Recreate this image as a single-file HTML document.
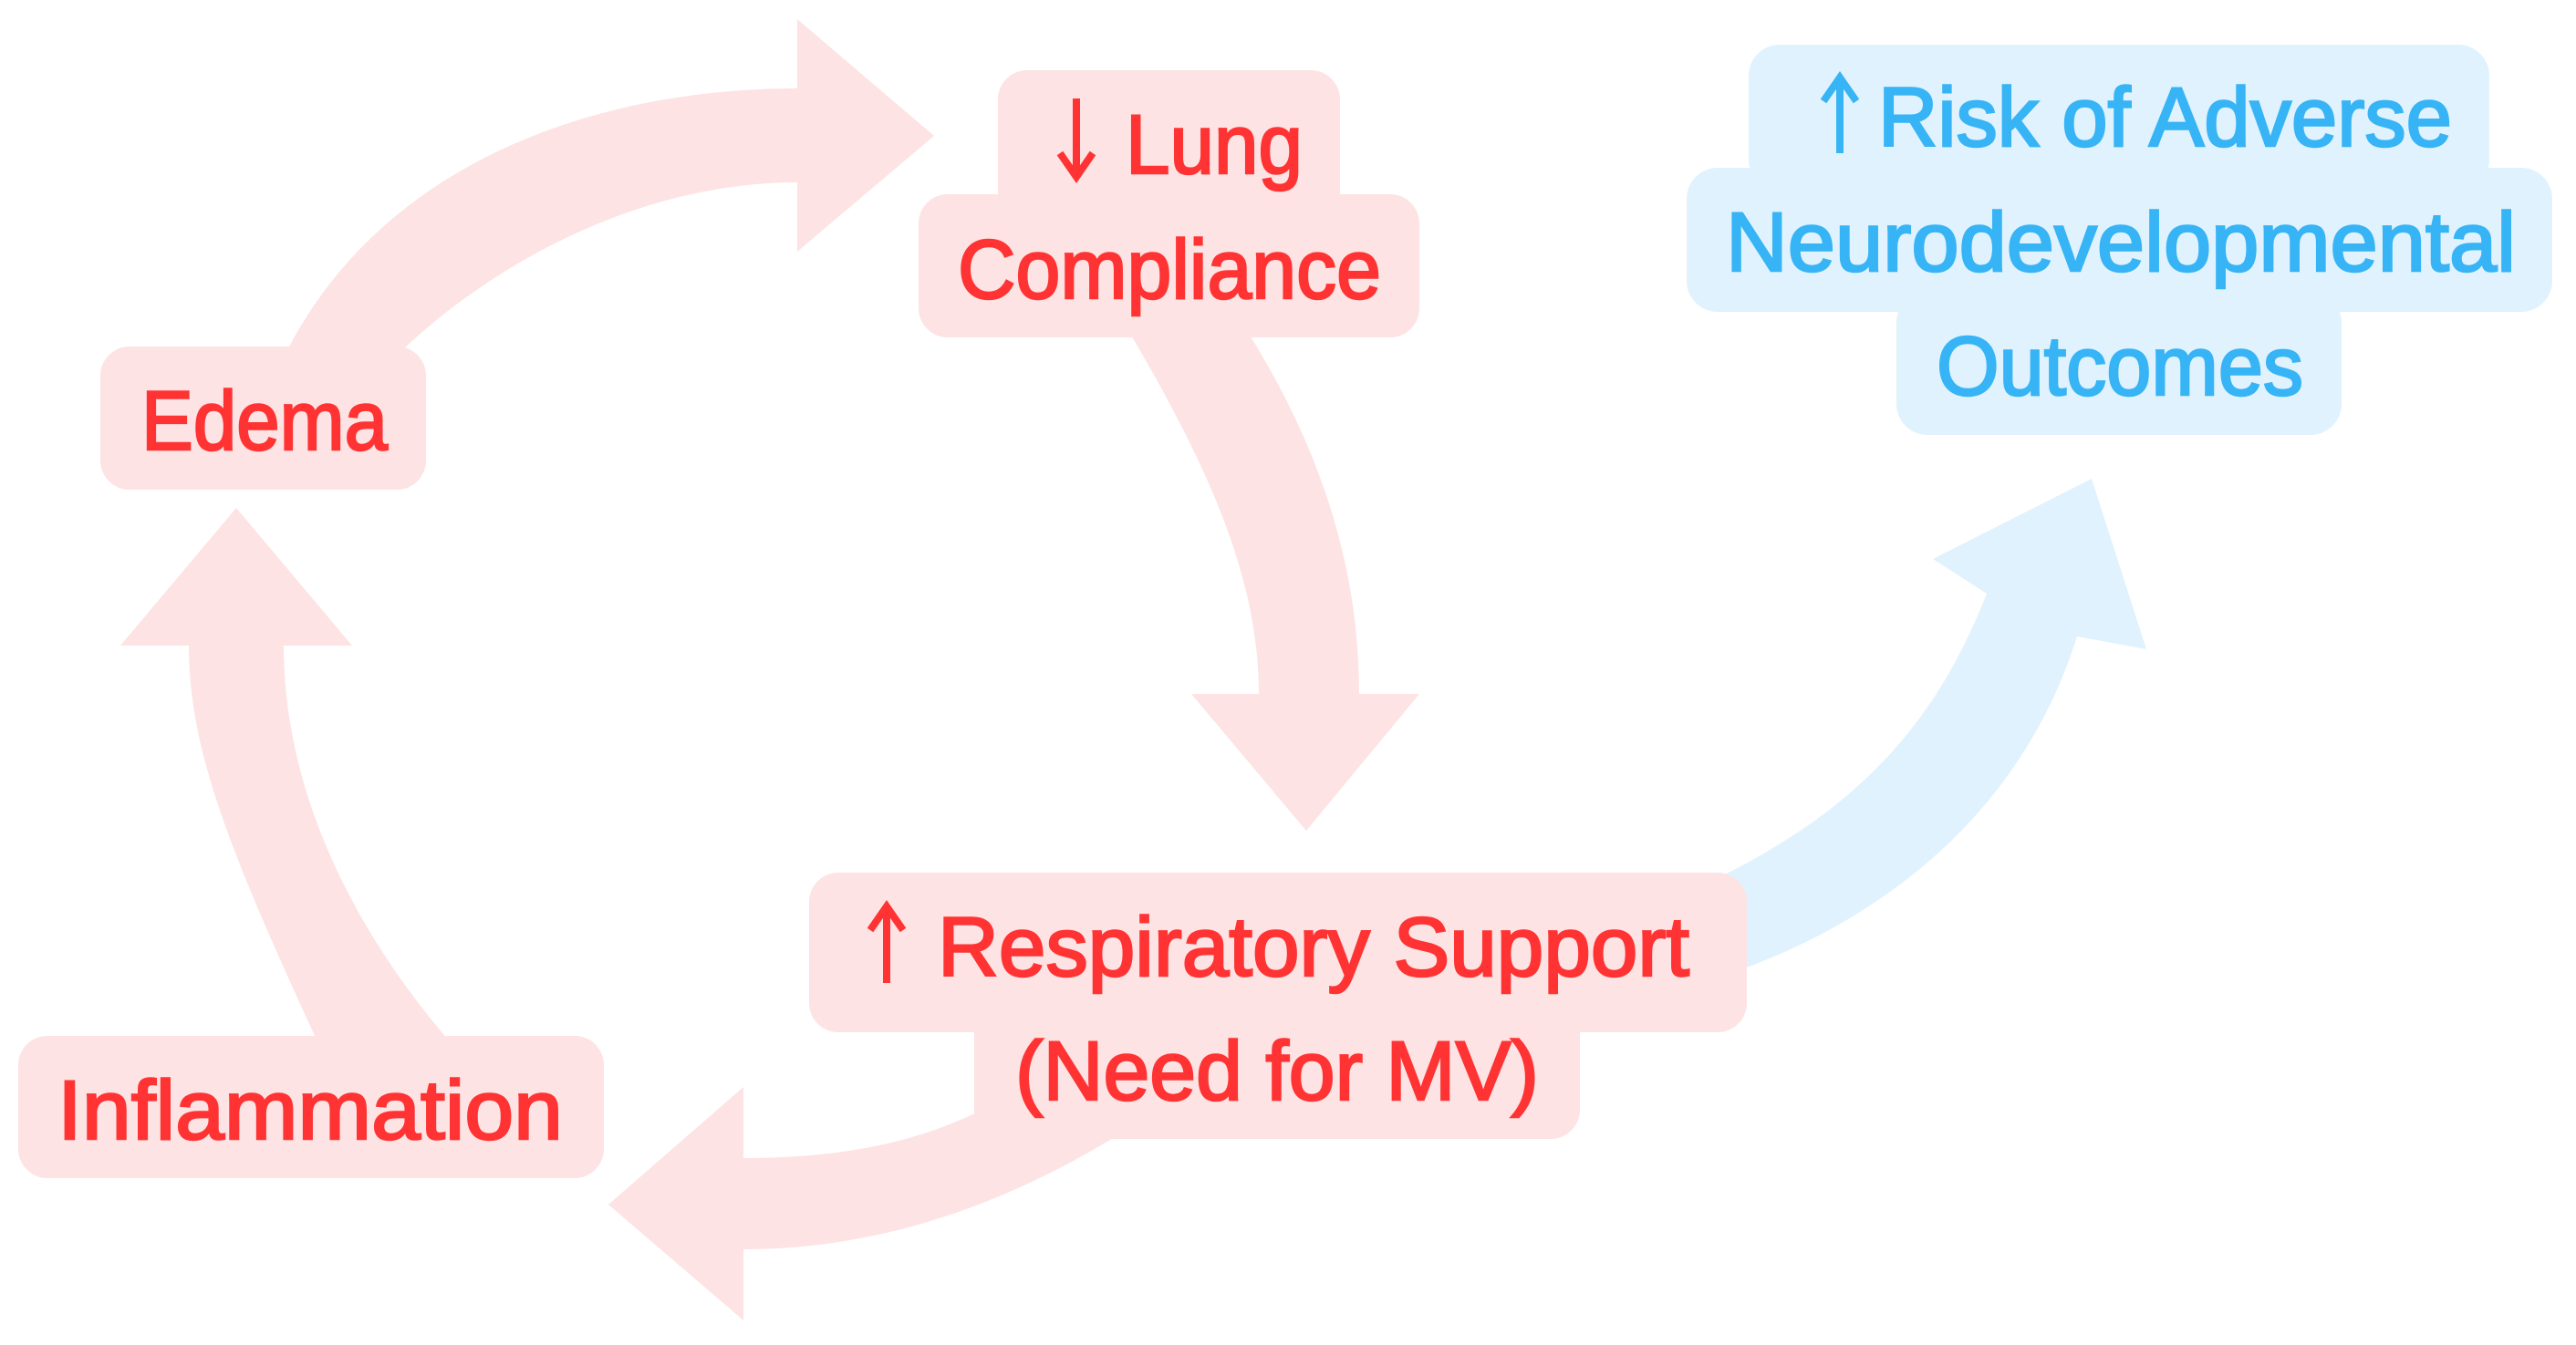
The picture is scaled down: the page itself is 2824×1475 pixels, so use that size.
<!DOCTYPE html>
<html><head><meta charset="utf-8"><style>
html,body{margin:0;padding:0;background:#fff}
svg{display:block}
text{font-family:"Liberation Sans","DejaVu Sans",sans-serif;font-size:92px;stroke-width:2.5}
</style></head><body>
<svg width="2824" height="1475" viewBox="0 0 2824 1475" xmlns="http://www.w3.org/2000/svg">
<g fill="#fde3e3">
<path d="M315,384 C420,180 650,97 874,97 L874,21 L1024,149 L874,276 L874,200 C700,200 540,290 441,384 Z"/>
<path d="M1239,366 C1330,520 1380,640 1380,761 L1306,761 L1432,911 L1556,761 L1490,761 C1490,610 1440,480 1369,366 Z"/>
<path d="M1075,1218 C1010,1250 930,1270 815,1270 L815,1192 L667,1321 L815,1448 L815,1370 C980,1370 1120,1310 1225,1245 Z"/>
<path d="M347,1140 C250,930 207,820 207,708 L132,708 L259,557 L386,708 L311,708 C311,860 380,1010 491,1140 Z"/>
</g>
<path fill="#e0f2fd" d="M1885,962 C2030,890 2120,800 2178,651 L2119,613 L2293,525 L2353,712 L2277,698 C2220,880 2080,1000 1912,1062 Z"/>

<g fill="#fde3e3">
<rect x="110" y="380" width="357" height="157" rx="32"/>
<rect x="1094" y="77" width="375" height="170" rx="32"/>
<rect x="1007" y="213" width="549" height="157" rx="32"/>
<rect x="887" y="957" width="1028" height="175" rx="32"/>
<rect x="1068" y="1100" width="664" height="149" rx="32"/>
<rect x="20" y="1136" width="642" height="156" rx="32"/>
</g>
<g fill="#e0f2fd">
<rect x="1917" y="49" width="812" height="160" rx="34"/>
<rect x="1849" y="184" width="949" height="158" rx="34"/>
<rect x="2079" y="320" width="488" height="157" rx="34"/>
</g>

<!-- arrow symbols -->
<g stroke="#ff3333" stroke-width="8" fill="none" stroke-linecap="butt">
<line x1="1180" y1="108" x2="1180" y2="192"/>
<polyline points="1162,168 1180,194 1198,168" stroke-linejoin="miter"/>
<line x1="972" y1="996" x2="972" y2="1078"/>
<polyline points="954,1020 972,994 990,1020"/>
</g>
<g stroke="#36b4f5" stroke-width="8" fill="none">
<line x1="2017" y1="87" x2="2017" y2="168"/>
<polyline points="1999,111 2017,85 2035,111"/>
</g>

<g fill="#ff3333" stroke="#ff3333">
<text x="155" y="493" textLength="270" lengthAdjust="spacingAndGlyphs">Edema</text>
<text x="1234" y="190" textLength="194" lengthAdjust="spacingAndGlyphs">Lung</text>
<text x="1050" y="327" textLength="464" lengthAdjust="spacingAndGlyphs">Compliance</text>
<text x="1028" y="1070" textLength="824" lengthAdjust="spacingAndGlyphs">Respiratory Support</text>
<text x="1113" y="1206" textLength="574" lengthAdjust="spacingAndGlyphs">(Need for MV)</text>
<text x="63" y="1249" textLength="554" lengthAdjust="spacingAndGlyphs">Inflammation</text>
</g>
<g fill="#36b4f5" stroke="#36b4f5">
<text x="2059" y="160" textLength="629" lengthAdjust="spacingAndGlyphs">Risk of Adverse</text>
<text x="1892" y="297" textLength="866" lengthAdjust="spacingAndGlyphs">Neurodevelopmental</text>
<text x="2123" y="433" textLength="402" lengthAdjust="spacingAndGlyphs">Outcomes</text>
</g>
</svg>
</body></html>
